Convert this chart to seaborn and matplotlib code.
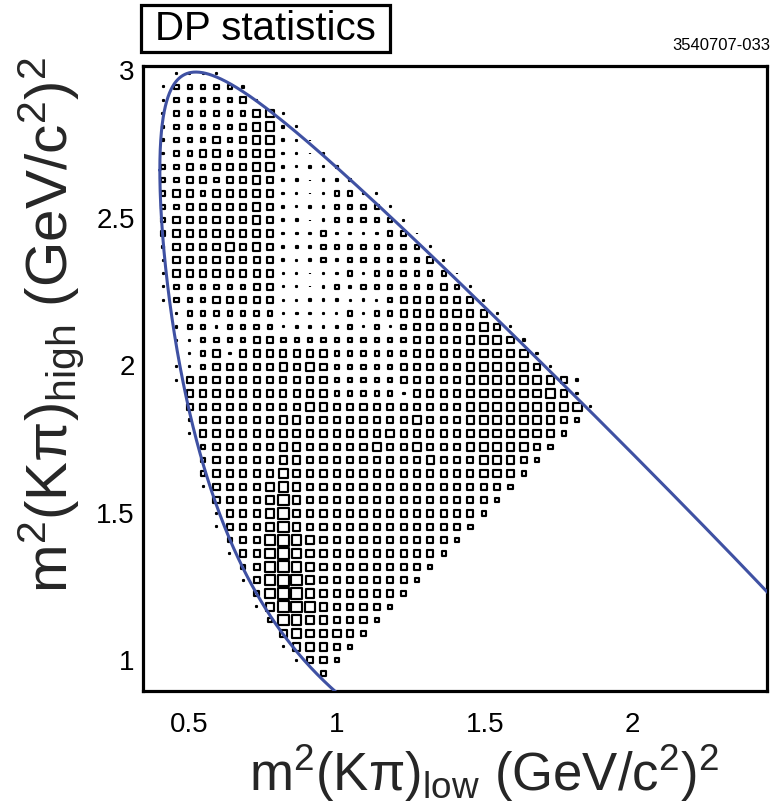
import numpy as np
import pandas as pd
import matplotlib
matplotlib.use("Agg")
import matplotlib.pyplot as plt
import seaborn as sns
from matplotlib.patches import Rectangle
from matplotlib.ticker import MultipleLocator

# ---------------- data ----------------
# Decay D+ -> K- pi+ pi+ : masses (GeV/c^2) used for the kinematic boundary
M_D = 1.86962
M_K = 0.493677
M_PI = 0.13957

# histogram grid: bin centres (GeV/c^2)^2
BIN_X0 = 0.412
BIN_W = 0.0452
# row index k (y bin centre = BIN_X0 + k*BIN_W), from top row to bottom row
row_ids = list(range(57, 11, -1))
# relative box size (0 = empty, 1..9) for columns i = 0,1,2,... of each row
box_rows = [
    "01111",
    "13333 32",
    "13333 341",
    "23333 33551",
    "23333 34562 1",
    "23334 34552 11",
    "23344 34552 111",
    "33434 44552 1212",
    "33443 44542 21222",
    "34434 44542 11233 21",
    "33444 44542 12233 331",
    "34444 44542 21233 3331",
    "34444 44542 22322 22331",
    "24444 54542 22333 33333 1",
    "14444 44442 12323 33333 41",
    "14444 44441 11223 23333 331",
    "13333 33441 11232 33333 3431",
    "13334 44441 12221 21344 44441",
    "02333 33331 22213 13344 44544 1",
    "02332 33331 22223 13134 44445 41",
    "01133 33443 33333 33334 44455 542",
    "00134 24444 44433 33334 44445 5552",
    "01134 44445 45433 33344 44455 55541",
    "01444 44444 44433 33344 44455 55555 42",
    "00444 44444 44433 33324 44455 55556 42",
    "00444 44444 45544 44444 44455 55555 561",
    "00244 44445 54444 44445 44455 55555 43",
    "00144 44445 54444 44544 44455 55555 3",
    "00034 44445 54444 45445 44455 55543",
    "00034 44445 54444 44444 54445 5543",
    "00034 44446 54444 44444 44445 543",
    "00014 44467 54444 44444 44444 43",
    "00004 44468 54444 44444 44444 3",
    "00002 44468 54444 44444 44443",
    "00001 44468 54444 44444 4443",
    "00000 34479 75444 44444 443",
    "00000 14479 75444 44444 43",
    "00000 03479 75444 44444 3",
    "00000 01479 85444 44443",
    "00000 00379 96544 4443",
    "00000 00169 87544 443",
    "00000 00038 75544 43",
    "00000 00005 65554 3",
    "00000 00001 55543",
    "00000 00000 1443",
    "00000 00000 003",
]

x_ticks = [0.5, 1, 1.5, 2]
y_ticks = [1, 1.5, 2, 2.5, 3]

# ---------------- build tables ----------------
recs = []
for k, s in zip(row_ids, box_rows):
    s = s.replace(" ", "")
    for i, ch in enumerate(s):
        if ch != "0":
            recs.append((BIN_X0 + i * BIN_W, BIN_X0 + k * BIN_W, int(ch)))
df = pd.DataFrame(recs, columns=["x", "y", "level"])

# kinematic (Dalitz) boundary
xmin = (M_K + M_PI) ** 2
xmax = (M_D - M_PI) ** 2
t = np.linspace(0, np.pi, 1500)
xs = xmin + (xmax - xmin) * (1 - np.cos(t)) / 2
EK = (xs - M_PI**2 + M_K**2) / (2 * np.sqrt(xs))
E3 = (M_D**2 - xs - M_PI**2) / (2 * np.sqrt(xs))
pK = np.sqrt(np.clip(EK**2 - M_K**2, 0, None))
p3 = np.sqrt(np.clip(E3**2 - M_PI**2, 0, None))
y_hi = (EK + E3) ** 2 - (pK - p3) ** 2
y_lo = (EK + E3) ** 2 - (pK + p3) ** 2
bound = pd.DataFrame({"x": np.concatenate([xs, xs[::-1]]),
                      "y": np.concatenate([y_hi, y_lo[::-1]])})

# ---------------- plot ----------------
sns.set_theme(style="white")
plt.rcParams["font.family"] = ["Liberation Sans", "DejaVu Sans"]
plt.rcParams["mathtext.fontset"] = "custom"
plt.rcParams["mathtext.rm"] = "Liberation Sans"
plt.rcParams["mathtext.it"] = "Liberation Sans"
plt.rcParams["mathtext.bf"] = "Liberation Sans:bold"

W, H = 774, 808
fig = plt.figure(figsize=(W / 100, H / 100), dpi=100)
fig.patch.set_facecolor("white")
L, R, T, B = 143, 767, 66, 691
ax = fig.add_axes([L / W, 1 - B / H, (R - L) / W, (B - T) / H])
ax.set_facecolor("white")

EDGE_PT = 1.55
edge_px = EDGE_PT / 0.72
outer_px = {1: 3.0, 2: 4.0, 3: 6.5, 4: 8.3, 5: 9.7, 6: 10.7, 7: 11.7, 8: 12.6, 9: 13.4}
size_map = {d: (max(o - edge_px, 0.3) * 0.72) ** 2 for d, o in outer_px.items()}

sns.scatterplot(data=df, x="x", y="y", size="level", sizes=size_map,
                marker="s", color="white", edgecolor="black", linewidth=EDGE_PT,
                legend=False, ax=ax, zorder=2)

sns.lineplot(data=bound, x="x", y="y", sort=False, estimator=None,
             color="#3f51a3", linewidth=2.2, ax=ax, zorder=3)

ax.set_xlim(0.344, 2.455)
ax.set_ylim(0.895, 3.0136)

ax.xaxis.set_minor_locator(MultipleLocator(0.1))
ax.yaxis.set_minor_locator(MultipleLocator(0.1))
ax.set_xticks(x_ticks)
ax.set_xticklabels([f"{v:g}" for v in x_ticks])
ax.set_yticks(y_ticks)
ax.set_yticklabels([f"{v:g}" for v in y_ticks])
ax.tick_params(which="both", direction="in", top=False, right=False,
               colors="black", width=1.0)
ax.tick_params(which="major", length=10.5, labelsize=20)
ax.tick_params(axis="x", which="major", pad=15)
ax.tick_params(axis="y", which="major", pad=6)
ax.tick_params(which="minor", length=5)
for sp in ax.spines.values():
    sp.set_visible(True)
    sp.set_color("black")
    sp.set_linewidth(2.3)

ax.set_xlabel(r"$\mathregular{m^2(K\pi)_{low}\ (GeV/c^2)^2}$", fontsize=38)
ax.set_ylabel(r"$\mathregular{m^2(K\pi)_{high}\ (GeV/c^2)^2}$", fontsize=42)
ax.xaxis.label.set_va("center")
ax.yaxis.label.set_va("center")
ax.xaxis.set_label_coords((484 - L) / (R - L), (B - 773) / (B - T))
ax.yaxis.set_label_coords((52 - L) / (R - L), (B - 325) / (B - T))

# title box
fig.add_artist(Rectangle((141 / W, 1 - 52 / H), 249 / W, 47 / H,
                         transform=fig.transFigure, fill=False,
                         edgecolor="black", linewidth=2.3))
fig.text(265 / W, 1 - 29 / H, "DP statistics", fontsize=29,
         ha="center", va="center", color="black")
fig.text(770 / W, 1 - 46 / H, "3540707-033", fontsize=12,
         ha="right", va="center", color="black")

fig.savefig("out.png", dpi=100, facecolor="white")
